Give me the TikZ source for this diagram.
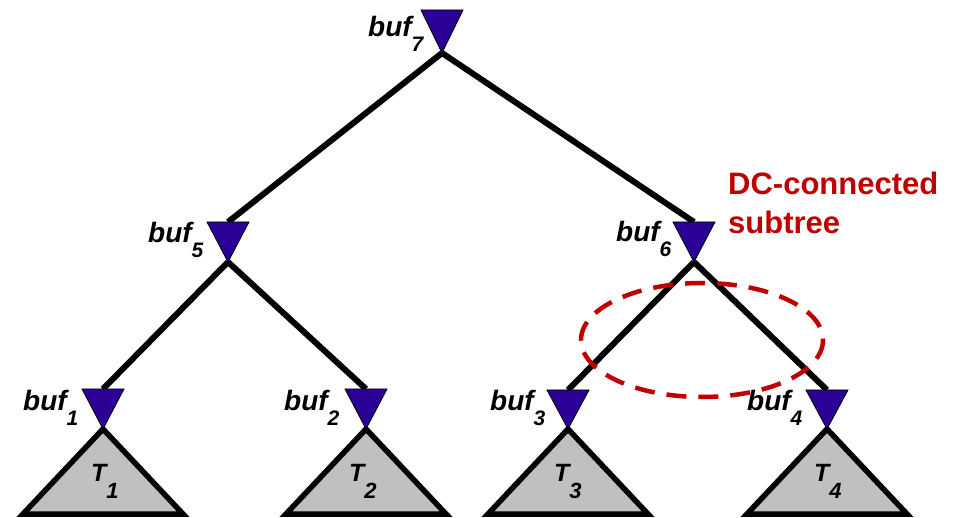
\documentclass[tikz,border=0pt]{standalone}
\usepackage{fontspec}
\setmainfont{Liberation Sans}
\definecolor{bufblue}{RGB}{42,0,150}
\definecolor{dcred}{RGB}{192,0,0}
\definecolor{subgray}{RGB}{192,192,192}
\begin{document}
\begin{tikzpicture}[x=1pt,y=-1pt,
  wire/.style={line width=6pt,black},
  bufshape/.style={fill=bufblue,draw=black,line width=0.8pt,line join=miter},
  subtri/.style={fill=subgray,draw=black,line width=5.5pt,line join=miter},
  buflabel/.style={anchor=base west,inner sep=0pt,font=\fontsize{28}{30}\selectfont\bfseries\itshape},
  tlabel/.style={anchor=base west,inner sep=0pt,font=\fontsize{25}{27}\selectfont\bfseries\itshape},
  dcnote/.style={anchor=base west,inner sep=0pt,text=dcred,font=\fontsize{31}{34}\selectfont\bfseries},
  ring/.style={draw=dcred,line width=4.5pt,dash pattern=on 20pt off 12pt}
]
\useasboundingbox (0,0) rectangle (961,518);
\fill[white] (0,0) rectangle (961,518);

% buffer top-centre and apex coordinates
\coordinate (b7t) at (442,10);  \coordinate (b7a) at (442,53);
\coordinate (b5t) at (228,222); \coordinate (b5a) at (228,262);
\coordinate (b6t) at (694,222); \coordinate (b6a) at (694,262);
\coordinate (b1t) at (103,389); \coordinate (b1a) at (103,429);
\coordinate (b2t) at (366,389); \coordinate (b2a) at (366,429);
\coordinate (b3t) at (568,390); \coordinate (b3a) at (568,429);
\coordinate (b4t) at (827,390); \coordinate (b4a) at (827,429);

% connectors
\draw[wire] (b7a) -- (b5t);
\draw[wire] (b7a) -- (b6t);
\draw[wire] (b5a) -- (b1t);
\draw[wire] (b5a) -- (b2t);
\draw[wire] (b6a) -- (b3t);
\draw[wire] (b6a) -- (b4t);

% subtrees
\foreach \n in {1,2,3,4}{
  \draw[subtri] (b\n a) -- ++(-80,85) -- ++(160,0) -- cycle;
}

% buffers
\foreach \n in {7,5,6,1,2,3,4}{
  \draw[bufshape] (b\n a) -- ([xshift=-21pt]b\n t) -- ([xshift=21pt]b\n t) -- cycle;
}

% buffer labels
\node[buflabel] (l7) at (368,37)  {buf\raisebox{-15pt}{\fontsize{21}{22}\selectfont 7}};
\node[buflabel] (l5) at (148,243) {buf\raisebox{-15pt}{\fontsize{21}{22}\selectfont 5}};
\node[buflabel] (l6) at (616,242) {buf\raisebox{-15pt}{\fontsize{21}{22}\selectfont 6}};
\node[buflabel] (l1) at (23,410)  {buf\raisebox{-15pt}{\fontsize{21}{22}\selectfont 1}};
\node[buflabel] (l2) at (284,410) {buf\raisebox{-15pt}{\fontsize{21}{22}\selectfont 2}};
\node[buflabel] (l3) at (490,410) {buf\raisebox{-15pt}{\fontsize{21}{22}\selectfont 3}};
\node[buflabel] (l4) at (747,410) {buf\raisebox{-15pt}{\fontsize{21}{22}\selectfont 4}};

% subtree labels
\node[tlabel] (t1) at (91,481)  {T\raisebox{-17pt}{\fontsize{22}{24}\selectfont 1}};
\node[tlabel] (t2) at (349,481) {T\raisebox{-17pt}{\fontsize{22}{24}\selectfont 2}};
\node[tlabel] (t3) at (554,481) {T\raisebox{-17pt}{\fontsize{22}{24}\selectfont 3}};
\node[tlabel] (t4) at (814,481) {T\raisebox{-17pt}{\fontsize{22}{24}\selectfont 4}};

% DC-connected annotation
\draw[ring] (702,340) ellipse [x radius=121, y radius=57];
\node[dcnote] (dc1) at (728,195) {DC-connected};
\node[dcnote] (dc2) at (728,234) {subtree};
\end{tikzpicture}
\end{document}
